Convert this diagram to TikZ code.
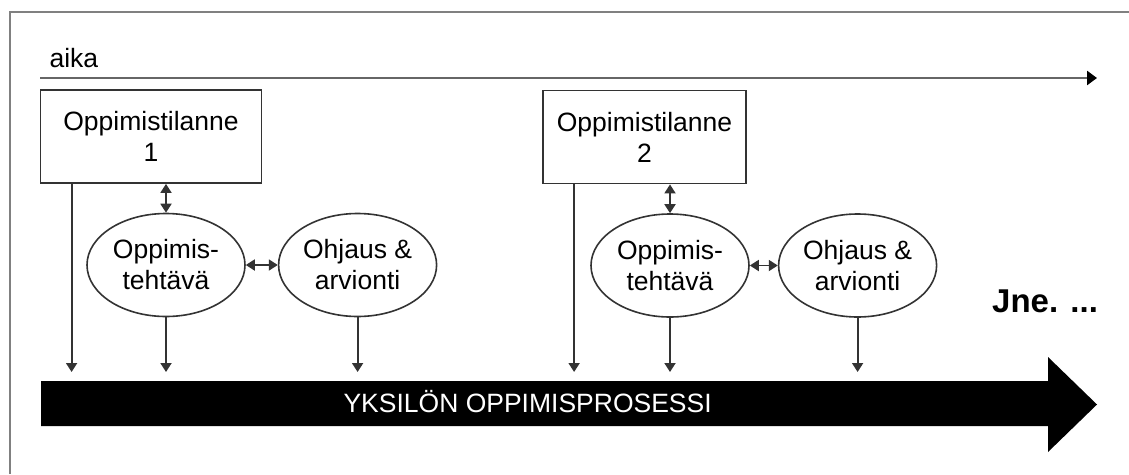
\documentclass[tikz,border=0pt]{standalone}
\usepackage{fontspec}
\setmainfont{Liberation Sans}
\usetikzlibrary{positioning,shapes.geometric,arrows.meta}

\begin{document}
\begin{tikzpicture}[x=1pt,y=-1pt,node distance=32pt,
  every node/.style={font=\fontsize{26.5}{31}\selectfont},
  tilanne/.style={draw=black!80, line width=1.8pt, minimum width=221pt, minimum height=93pt, align=center, inner sep=0pt},
  tehtava/.style={draw=black!80, line width=1.6pt, ellipse, minimum width=158pt, minimum height=103pt, align=center, inner sep=0pt},
  link/.style={draw=black!80, line width=1.8pt, -{Triangle[width=11pt,length=9pt]}},
  twoway/.style={link, {Triangle[width=11pt,length=9pt]}-{Triangle[width=11pt,length=9pt]}}]

\useasboundingbox (0,0) rectangle (1129,474);

% Frame
\draw[gray, line width=2.2pt] (10,474) -- (10,12) -- (1129,12);

% Time axis
\coordinate (t0) at (40,78);
\coordinate (t1) at (1097,78);
\draw[gray!80!black, line width=2.5pt, -{Triangle[black,width=14pt,length=10pt]}] (t0) -- (t1);
\node[anchor=base west] (aika) at (46,67) {aika};

% Learning process arrow
\fill (41,381) -- (1048,381) -- (1048,357) -- (1097,404.5) -- (1048,452) -- (1048,426) -- (41,426) -- cycle;
\node[anchor=base west, text=white] (proc) at (340,412) {YKSILÖN OPPIMISPROSESSI};
\coordinate (track) at (0,372);

% Situations
\node[tilanne] (b1) at (151,136.5) {Oppimistilanne\\1};
\node[tilanne, minimum width=203pt] (b2) at (644.5,137) {Oppimistilanne\\2};

% Tasks and guidance
\node[tehtava] (e1) at (166,265) {Oppimis-\\tehtävä};
\node[tehtava, right=of e1] (e2) {Ohjaus \&\\arvionti};
\node[tehtava] (e3) at (670,265.5) {Oppimis-\\tehtävä};
\node[tehtava, right=28pt of e3] (e4) {Ohjaus \&\\arvionti};

\node[font=\bfseries\fontsize{33}{38}\selectfont, anchor=base west, inner sep=0pt] (jne) at (992,312) {Jne. ...};

% Connectors
\coordinate (b1out) at ([xshift=32pt]b1.south west);
\coordinate (b2out) at ([xshift=32pt]b2.south west);
\draw[link] (b1out) -- (b1out |- track);
\draw[link] (b2out) -- (b2out |- track);
\draw[twoway] (b1.south -| e1.north) -- (e1.north);
\draw[twoway] (b2.south -| e3.north) -- (e3.north);
\draw[twoway] (e1) -- (e2);
\draw[twoway] (e3) -- (e4);
\foreach \e in {e1,e2,e3,e4}
  \draw[link] (\e.south) -- (\e.south |- track);

\end{tikzpicture}
\end{document}
